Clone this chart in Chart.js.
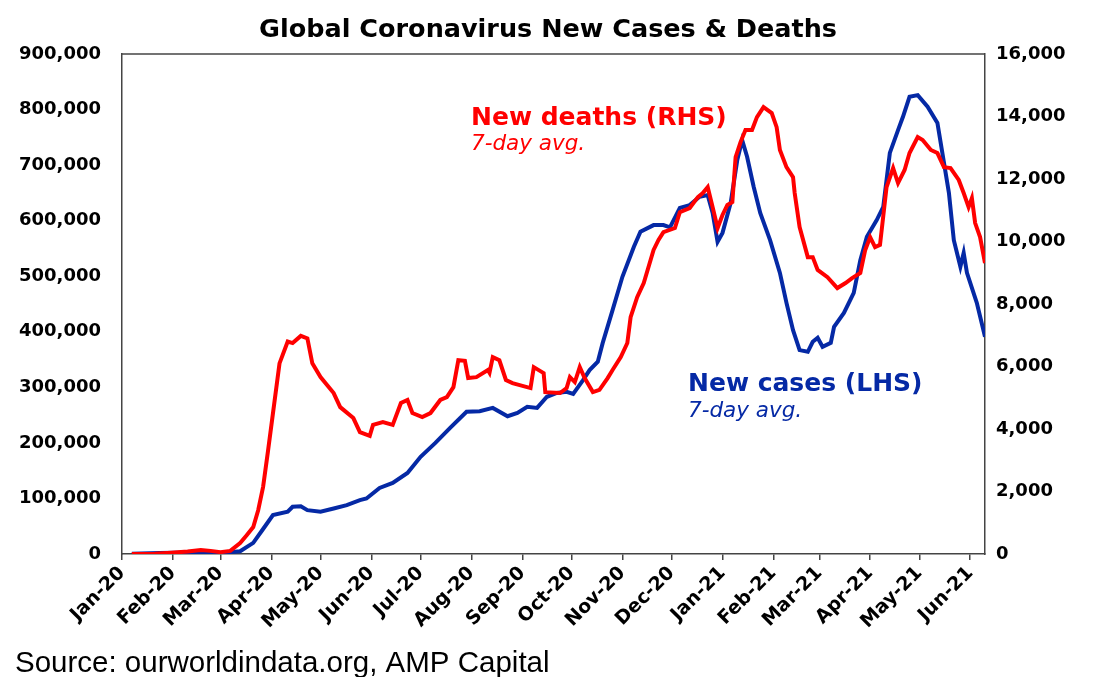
<!DOCTYPE html>
<html>
<head>
<meta charset="utf-8">
<script src="https://cdn.jsdelivr.net/npm/chart.js@4/dist/chart.umd.min.js"></script>
<style>
  html, body { margin: 0; padding: 0; background: #fff; }
  #wrap { width: 1111px; height: 677px; position: relative; }
</style>
</head>
<body>
<div id="wrap"><canvas id="c" width="1111" height="677"></canvas></div>
<script>
// x values are days since 1 Jan 2020
const monthDays = [0, 31, 60, 91, 121, 152, 182, 213, 244, 274, 305, 335, 366, 397, 425, 456, 486, 517];
const monthLabels = ['Jan-20', 'Feb-20', 'Mar-20', 'Apr-20', 'May-20', 'Jun-20', 'Jul-20', 'Aug-20', 'Sep-20',
  'Oct-20', 'Nov-20', 'Dec-20', 'Jan-21', 'Feb-21', 'Mar-21', 'Apr-21', 'May-21', 'Jun-21'];

// new cases, 7-day avg (LHS)
const caseDays = [6, 23, 41, 60, 72, 80, 86, 92, 101, 104, 109, 113, 121, 129, 137, 145, 149, 157, 165, 174,
  182, 191, 200, 210, 218, 226, 235, 241, 247, 253, 259, 265, 271, 275, 281, 285, 290, 293, 299, 305,
  312, 316, 324, 330, 334, 340, 346, 352, 357, 360, 363, 366, 371, 375, 378, 381, 385, 389, 395, 401,
  405, 409, 413, 418, 421, 424, 427, 432, 434, 440, 446, 450, 454, 460, 464, 468, 473, 476, 480, 485,
  491, 497, 501, 504, 507, 511, 513, 515, 521, 526];
const cases = [500, 2000, 2500, 1500, 5000, 20000, 45000, 70000, 76000, 85000, 86000, 79000, 76000, 82000, 88000, 97000, 100000, 119000, 128000, 146000,
  175000, 200000, 227000, 256000, 257000, 263000, 248000, 254000, 265000, 263000, 283000, 290000, 292000, 288000, 313000, 331000, 346000, 380000, 439000, 499000,
  553000, 580000, 592000, 592000, 588000, 623000, 628000, 643000, 646000, 614000, 562000, 578000, 632000, 709000, 745000, 715000, 661000, 614000, 565000, 506000,
  452000, 403000, 367000, 364000, 382000, 389000, 373000, 380000, 409000, 434000, 470000, 529000, 571000, 601000, 625000, 722000, 763000, 787000, 823000, 826000,
  805000, 776000, 704000, 650000, 565000, 517000, 542000, 506000, 452000, 391000];

// new deaths, 7-day avg (RHS)
const deathDays = [6, 20, 30, 40, 48, 54, 60, 66, 72, 76, 80, 83, 86, 89, 92, 96, 101, 104, 109, 113,
  116, 121, 129, 133, 141, 145, 151, 153, 159, 165, 170, 174, 177, 183, 188, 194, 198, 202, 205, 209,
  211, 216, 223, 224, 226, 230, 234, 238, 249, 251, 257, 258, 267, 271, 273, 276, 279, 282, 287, 291,
  296, 299, 304, 308, 310, 314, 318, 324, 327, 330, 337, 340, 346, 351, 354, 357, 360, 363, 366, 369,
  372, 374, 377, 380, 384, 387, 391, 396, 399, 401, 405, 409, 410, 413, 418, 421, 424, 430, 436, 441,
  445, 450, 453, 456, 459, 462, 466, 470, 473, 477, 480, 485, 488, 493, 497, 501, 505, 510, 513, 516,
  518, 520, 523, 526];
const deaths = [0, 10, 40, 80, 130, 100, 60, 100, 350, 600, 860, 1400, 2150, 3300, 4500, 6100, 6800, 6750, 6980, 6900,
  6100, 5660, 5150, 4700, 4350, 3900, 3780, 4130, 4220, 4130, 4830, 4930, 4510, 4380, 4510, 4930, 5020, 5340, 6200, 6180,
  5630, 5660, 5890, 5800, 6300, 6200, 5570, 5470, 5310, 5980, 5790, 5180, 5150, 5310, 5660, 5500, 5980, 5630, 5180, 5250,
  5630, 5890, 6300, 6750, 7580, 8220, 8670, 9730, 10050, 10300, 10430, 10940, 11070, 11420, 11550, 11740, 11100, 10430, 10850, 11170,
  11260, 12700, 13180, 13570, 13570, 13980, 14300, 14110, 13660, 12930, 12380, 12060, 11550, 10460, 9500, 9500, 9090, 8860, 8510, 8670,
  8830, 8990, 9730, 10140, 9820, 9890, 11740, 12350, 11870, 12290, 12830, 13340, 13250, 12930, 12830, 12380, 12350, 11970, 11550, 11100,
  11390, 10590, 10140, 9310];

const RED = '#ff0000';
const BLUE = '#0529a5';
const BOLD = 'bold 25px "DejaVu Sans"';
const ITAL = 'oblique 21.5px "DejaVu Sans"';

const toXY = (xs, ys) => xs.map((d, i) => ({x: d, y: ys[i]}));

const textPlugin = {
  id: 'texts',
  afterDraw(chart) {
    const ctx = chart.ctx;
    const a = chart.chartArea;
    ctx.save();
    // top border of the plot frame
    ctx.strokeStyle = '#444';
    ctx.lineWidth = 1.5;
    ctx.beginPath();
    ctx.moveTo(a.left, a.top);
    ctx.lineTo(a.right, a.top);
    ctx.stroke();

    ctx.textBaseline = 'alphabetic';
    ctx.fillStyle = '#000';
    ctx.font = 'bold 25.5px "DejaVu Sans"';
    ctx.textAlign = 'center';
    ctx.fillText('Global Coronavirus New Cases & Deaths', 548, 37);

    ctx.textAlign = 'left';
    ctx.fillStyle = RED;
    ctx.font = BOLD;
    ctx.fillText('New deaths (RHS)', 471, 125);
    ctx.font = ITAL;
    ctx.fillText('7-day avg.', 471, 150);

    ctx.fillStyle = BLUE;
    ctx.font = BOLD;
    ctx.fillText('New cases (LHS)', 688, 391);
    ctx.font = ITAL;
    ctx.fillText('7-day avg.', 688, 417);

    ctx.fillStyle = '#000';
    ctx.font = '29.5px "Liberation Sans", Arial';
    ctx.fillText('Source: ourworldindata.org, AMP Capital', 15, 672);
    ctx.restore();
  }
};

const tickFont = {family: 'DejaVu Sans', size: 18, weight: 'bold'};

new Chart(document.getElementById('c'), {
  type: 'line',
  data: {
    datasets: [
      {
        label: 'New deaths (RHS)',
        data: toXY(deathDays, deaths),
        yAxisID: 'yR',
        borderColor: RED,
        borderWidth: 4,
        pointRadius: 0,
        tension: 0
      },
      {
        label: 'New cases (LHS)',
        data: toXY(caseDays, cases),
        yAxisID: 'yL',
        borderColor: BLUE,
        borderWidth: 4,
        pointRadius: 0,
        tension: 0
      }
    ]
  },
  options: {
    responsive: false,
    animation: false,
    devicePixelRatio: 1,
    layout: {padding: {top: 54, left: 0, right: 0, bottom: 0}},
    plugins: {
      legend: {display: false},
      title: {display: false},
      tooltip: {enabled: false}
    },
    scales: {
      x: {
        type: 'linear',
        min: 0,
        max: 526,
        afterBuildTicks(scale) {
          scale.ticks = monthDays.map(v => ({value: v}));
        },
        afterFit(scale) { scale.height = 123; },
        ticks: {
          autoSkip: false,
          minRotation: 45,
          maxRotation: 45,
          color: '#000',
          font: {family: 'DejaVu Sans', size: 19, weight: 'bold'},
          padding: 2,
          callback: (v) => monthLabels[monthDays.indexOf(v)]
        },
        grid: {display: true, drawOnChartArea: false, drawTicks: true, tickLength: 6, color: '#444', lineWidth: 1.5},
        border: {display: true, color: '#444', width: 1.5}
      },
      yL: {
        position: 'left',
        min: 0,
        max: 900000,
        afterFit(scale) { scale.width = 122; },
        ticks: {
          stepSize: 100000,
          color: '#000',
          font: tickFont,
          padding: 21,
          callback: (v) => v.toLocaleString('en-US')
        },
        grid: {display: false, drawTicks: false},
        border: {display: true, color: '#444', width: 1.5}
      },
      yR: {
        position: 'right',
        min: 0,
        max: 16000,
        afterFit(scale) { scale.width = 126; },
        ticks: {
          stepSize: 2000,
          color: '#000',
          font: tickFont,
          padding: 11,
          callback: (v) => v.toLocaleString('en-US')
        },
        grid: {display: false, drawTicks: false},
        border: {display: true, color: '#444', width: 1.5}
      }
    }
  },
  plugins: [textPlugin]
});
</script>
</body>
</html>
